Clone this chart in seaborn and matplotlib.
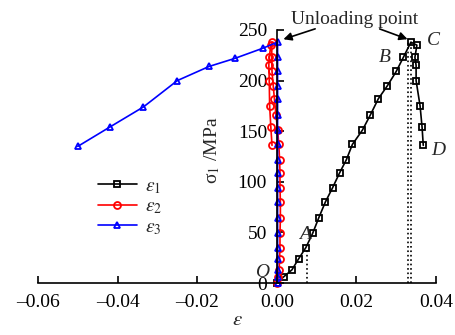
# import packages
import matplotlib
matplotlib.use('Agg')
import matplotlib.pyplot as plt
from matplotlib.ticker import FuncFormatter
import seaborn as sns

# data (strain, stress in MPa)
stress_load = [0, 6, 13, 24, 35, 49, 64, 80, 94, 109, 122, 137, 151, 166, 182, 195, 209, 223, 238]
stress_post = [235, 223, 215, 200, 175, 154, 136]

e1_load = [0, 0.0017, 0.0038, 0.0055, 0.0073, 0.009, 0.0105, 0.0122, 0.014, 0.0158,
           0.0175, 0.019, 0.0215, 0.0235, 0.0255, 0.0278, 0.030, 0.0318, 0.0337]
e1_post = [0.0352, 0.0347, 0.035, 0.035, 0.036, 0.0365, 0.0368]

e2_load = [0, 0.0004, 0.0006, 0.0007, 0.0008, 0.0008, 0.0009, 0.0009, 0.0008, 0.0008,
           0.0007, 0.0005, 0.0002, -0.0002, -0.0006, -0.0009, -0.0012, -0.0013, -0.0012]
e2_post = [-0.0015, -0.0019, -0.002, -0.0019, -0.0018, -0.0015, -0.0012]

e3_load = [0.0002] * len(stress_load)
e3_post = [-0.0035, -0.0105, -0.017, -0.025, -0.0335, -0.042, -0.05]
stress3_post = [232, 222, 214, 200, 174, 154, 135]

# build image
sns.set_style('white')
plt.rcParams['font.family'] = ['Liberation Serif', 'DejaVu Serif']
plt.rcParams['mathtext.fontset'] = 'stix'

fig = plt.figure(figsize=(4.55, 3.35), dpi=100)
ax = fig.add_axes([38 / 455, 52 / 335, 398 / 455, 253 / 335])

# series
series = [
    (e1_load + e1_post, stress_load + stress_post, 'k', 's', r'$\varepsilon_1$'),
    (e2_load + e2_post, stress_load + stress_post, 'red', 'o', r'$\varepsilon_2$'),
    (e3_load + e3_post, stress_load + stress3_post, 'blue', '^', r'$\varepsilon_3$'),
]
for x, y, c, m, lab in series:
    sns.lineplot(x=x, y=y, sort=False, estimator=None, color=c, marker=m, ms=5,
                 mfc='none', mec=c, mew=1.3, lw=1.2, label=lab, ax=ax, clip_on=False)

# guide lines
ax.plot([0.0077, 0.0077], [0, 35], ls=':', c='k', lw=1.2)
ax.plot([0.0330, 0.0330], [0, 238], ls=':', c='k', lw=1.2)
ax.plot([0.0336, 0.0336], [0, 238], ls=':', c='k', lw=1.2)

# graph elements
ax.set_xlim(-0.06, 0.04)
ax.set_ylim(0, 250)
for s in ['top', 'right']:
    ax.spines[s].set_visible(False)
ax.spines['left'].set_position(('data', 0))
ax.spines['left'].set_bounds(0, 250)
for s in ['left', 'bottom']:
    ax.spines[s].set_color('k')
    ax.spines[s].set_linewidth(1.2)
ax.set_xticks([-0.06, -0.04, -0.02, 0.0, 0.02, 0.04])
ax.set_yticks([0, 50, 100, 150, 200, 250])
ax.xaxis.set_major_formatter(FuncFormatter(lambda v, p: f'{v:.2f}'.replace('-', '\u2013')))
ax.tick_params(axis='both', direction='in', length=5, width=1.2, labelsize=14, colors='k')
ax.tick_params(axis='x', pad=8, bottom=True)
ax.tick_params(axis='y', pad=7, left=True)

ax.set_xlabel(r'$\varepsilon$', fontsize=15, labelpad=0)
ax.set_ylabel('σ$_1$ /MPa', fontsize=14)
ax.yaxis.set_label_coords(0.462, 0.526)

# labels and arrows
for t, x, y in [('A', 0.007, 48), ('B', 0.027, 223), ('C', 0.0393, 240),
                ('D', 0.0405, 131), ('O', -0.0037, 10)]:
    ax.text(x, y, t, fontsize=14, style='italic', ha='center', va='center')
ax.text(0.0195, 260, 'Unloading point', fontsize=14, ha='center', va='center')
arrow = dict(arrowstyle='-|>', color='k', lw=1.2, mutation_scale=12)
ax.annotate('', xy=(0.001, 240), xytext=(0.0103, 252), arrowprops=arrow, annotation_clip=False)
ax.annotate('', xy=(0.0335, 240), xytext=(0.0252, 252), arrowprops=arrow, annotation_clip=False)

ax.legend(loc='center', bbox_to_anchor=(0.231, 0.30), frameon=False, fontsize=14,
          handlelength=2.0, labelspacing=0.1, handletextpad=0.4)

# save
fig.savefig('out.png', dpi=100)
